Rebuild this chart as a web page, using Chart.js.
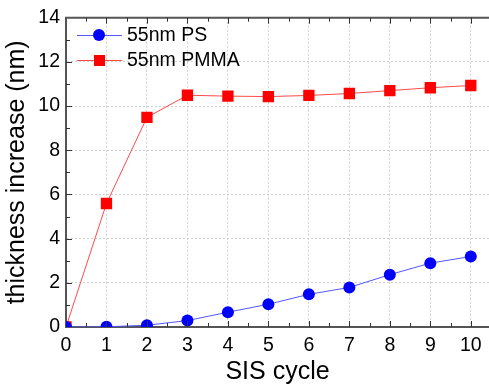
<!DOCTYPE html>
<html>
<head>
<meta charset="utf-8">
<script src="https://cdn.jsdelivr.net/npm/chart.js@4.4.1/dist/chart.umd.min.js"></script>
<style>
  html, body { margin: 0; padding: 0; background: #fff; }
  #wrap { width: 489px; height: 385px; }
</style>
</head>
<body>
<div id="wrap"><canvas id="chartCanvas" width="489" height="385"></canvas></div>
<script>
const cycles = [0, 1, 2, 3, 4, 5, 6, 7, 8, 9, 10];
const psValues = [0, 0.01, 0.08, 0.29, 0.67, 1.03, 1.48, 1.79, 2.37, 2.89, 3.19];
const pmmaValues = [0, 5.59, 9.49, 10.49, 10.45, 10.43, 10.48, 10.57, 10.70, 10.83, 10.93];
const seriesNames = ["55nm PS", "55nm PMMA"];
const xTicks = [0, 1, 2, 3, 4, 5, 6, 7, 8, 9, 10];
const yTicks = [0, 2, 4, 6, 8, 10, 12, 14];

const fontFamily = "'Liberation Sans', Arial, sans-serif";
const axisColor = "#555";

function pares(xs, ys) {
  return xs.map((x, i) => ({ x: x, y: ys[i] }));
}

// ejes: borde superior, marcas hacia dentro y leyenda
const extrasPlugin = {
  id: "extras",
  afterDatasetsDraw(chart) {
    const ctx = chart.ctx;
    const area = chart.chartArea;
    const xs = chart.scales.x;
    const ys = chart.scales.y;
    ctx.save();
    ctx.strokeStyle = axisColor;
    ctx.lineWidth = 2;
    ctx.beginPath();
    ctx.moveTo(area.left - 1, area.top);
    ctx.lineTo(area.right, area.top);
    ctx.stroke();

    ctx.lineWidth = 1;
    ctx.strokeStyle = "#333";
    ctx.beginPath();
    for (let v = 0.5; v <= 10.45; v += 0.5) {
      const px = Math.round(xs.getPixelForValue(v)) + 0.5;
      const len = Number.isInteger(v) ? 6 : 4;
      ctx.moveTo(px, area.bottom);
      ctx.lineTo(px, area.bottom - len);
      ctx.moveTo(px, area.top);
      ctx.lineTo(px, area.top + len);
    }
    for (let v = 1; v < 14; v += 1) {
      const py = Math.round(ys.getPixelForValue(v)) + 0.5;
      const len = v % 2 === 0 ? 6 : 4;
      ctx.moveTo(area.left, py);
      ctx.lineTo(area.left + len, py);
    }
    ctx.stroke();

    // leyenda
    const datasets = chart.data.datasets;
    const filas = [35, 60];
    datasets.forEach((ds, i) => {
      const y = filas[i];
      ctx.strokeStyle = ds.borderColor;
      ctx.lineWidth = 1;
      ctx.beginPath();
      ctx.moveTo(77, y + 0.5);
      ctx.lineTo(122, y + 0.5);
      ctx.stroke();
      ctx.fillStyle = ds.pointBackgroundColor;
      if (ds.pointStyle === "rect") {
        ctx.fillRect(99 - 5, y - 5, 11, 11);
      } else {
        ctx.beginPath();
        ctx.arc(99, y, 6, 0, Math.PI * 2);
        ctx.fill();
      }
      ctx.fillStyle = "#000";
      ctx.font = "19.5px " + fontFamily;
      ctx.textBaseline = "middle";
      ctx.textAlign = "left";
      ctx.fillText(ds.label, 127, y + 1);
    });
    ctx.restore();
  }
};

function inicializarGrafica() {
  const ctx = document.getElementById("chartCanvas").getContext("2d");
  new Chart(ctx, {
    type: "line",
    data: {
      datasets: [{
        label: seriesNames[0],
        data: pares(cycles, psValues),
        borderColor: "#5555ff",
        borderWidth: 1,
        pointStyle: "circle",
        pointRadius: 6,
        pointBackgroundColor: "#0000ff",
        pointBorderColor: "#0000ff",
        pointBorderWidth: 0,
        fill: false
      }, {
        label: seriesNames[1],
        data: pares(cycles, pmmaValues),
        borderColor: "#ff4a4a",
        borderWidth: 1,
        pointStyle: "rect",
        pointRadius: 8,
        pointBackgroundColor: "#ff0000",
        pointBorderColor: "#ff0000",
        pointBorderWidth: 0,
        fill: false
      }]
    },
    options: {
      responsive: false,
      animation: false,
      events: [],
      layout: { autoPadding: false, padding: { top: 17, right: 0, left: 0, bottom: 0 } },
      plugins: {
        legend: { display: false },
        tooltip: { enabled: false }
      },
      scales: {
        x: {
          type: "linear",
          min: 0,
          max: 10.45,
          afterFit: (s) => { s.height = 58; },
          afterBuildTicks: (s) => { s.ticks = xTicks.map(v => ({ value: v })); },
          grid: {
            color: "#d0d0d0",
            lineWidth: 1,
            drawTicks: false
          },
          border: { display: true, color: axisColor, width: 2, dash: [2, 2] },
          ticks: {
            color: "#000",
            padding: 7,
            maxRotation: 0,
            font: { family: fontFamily, size: 19.5 }
          },
          title: {
            display: true,
            text: "SIS cycle",
            color: "#000",
            padding: { top: 4, bottom: 0 },
            font: { family: fontFamily, size: 25, lineHeight: 1 }
          }
        },
        y: {
          min: 0,
          max: 14,
          afterFit: (s) => { s.width = 66; },
          afterBuildTicks: (s) => { s.ticks = yTicks.map(v => ({ value: v })); },
          grid: {
            color: "#d0d0d0",
            lineWidth: 1,
            drawTicks: false
          },
          border: { display: true, color: axisColor, width: 2, dash: [2, 2] },
          ticks: {
            color: "#000",
            padding: 6,
            font: { family: fontFamily, size: 19.5 }
          },
          title: {
            display: true,
            text: "thickness increase (nm)",
            color: "#000",
            padding: { top: 5, bottom: 0 },
            font: { family: fontFamily, size: 25, lineHeight: 1 }
          }
        }
      }
    },
    plugins: [extrasPlugin]
  });
}

window.addEventListener("DOMContentLoaded", () => {
  inicializarGrafica();
});
</script>
</body>
</html>
